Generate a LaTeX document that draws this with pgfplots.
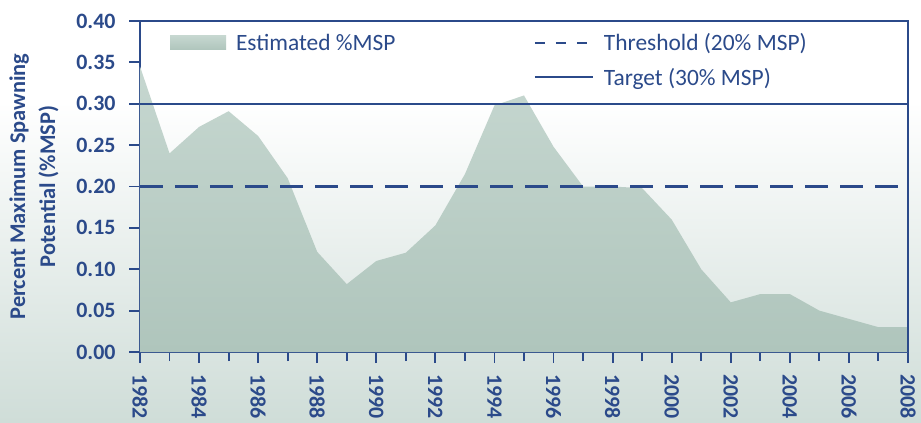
\documentclass[border=0pt]{standalone}
\usepackage{fontspec}
\setmainfont{Carlito}
\usepackage{pgfplots}
\pgfplotsset{compat=1.18}
\definecolor{navy}{HTML}{2B4A8A}
\definecolor{areatop}{HTML}{C6D7D0}
\definecolor{areabot}{HTML}{AFC5BC}
\definecolor{bgbottom}{HTML}{CFDDD8}

\begin{document}
\begin{tikzpicture}[x=1bp,y=1bp]
% page background, white at the top fading to pale green
\fill[white] (-140,250) rectangle (781,352);
\shade[top color=white, bottom color=bgbottom] (-140,-70) rectangle (781,251);
\begin{axis}[
  at={(0,0)}, anchor=south west,
  scale only axis, width=768bp, height=331bp,
  xmin=1982, xmax=2008, ymin=0, ymax=0.40,
  xtick={1982,1984,...,2008}, minor xtick={1982,...,2008},
  ytick={0,0.05,...,0.40},
  yticklabel style={xshift=-10bp, /pgf/number format/fixed, /pgf/number format/fixed zerofill, /pgf/number format/precision=2},
  xticklabel style={rotate=-90, anchor=west, xshift=8bp, /pgf/number format/1000 sep={}},
  /pgf/number format/assume math mode=true,
  tick pos=left, tick align=outside,
  major tick length=11bp, minor tick length=9bp,
  axis line style={navy, line width=2.5bp},
  every tick/.style={navy, line width=1.8bp},
  tick label style={font=\fontsize{22}{24}\selectfont\bfseries, text=navy},
  ylabel={Percent Maximum Spawning\\Potential (\%MSP)},
  ylabel style={font=\fontsize{22.5}{30}\selectfont\bfseries, text=navy, align=center, yshift=11bp},
  legend columns=2,
  legend style={draw=none, fill=none, at={(0.035,0.975)}, anchor=north west,
    font=\fontsize{23.5}{26}\selectfont, text=navy, row sep=12bp,
    nodes={inner sep=2bp}},
  legend cell align=left,
  /tikz/every odd column/.append style={column sep=8bp},
  /tikz/every even column/.append style={column sep=136bp},
  legend image code/.code={\draw[#1] (0bp,0bp) -- (58bp,0bp);},
]
\addplot[top color=areatop, bottom color=areabot, draw=none,
  legend image code/.code={\fill[areatop!85!areabot] (0bp,-7bp) rectangle (56bp,7bp);}] coordinates {
  (1982,0.345)(1983,0.24)(1984,0.272)(1985,0.291)(1986,0.261)(1987,0.21)
  (1988,0.121)(1989,0.082)(1990,0.11)(1991,0.12)(1992,0.153)(1993,0.215)
  (1994,0.298)(1995,0.31)(1996,0.248)(1997,0.20)(1998,0.20)(1999,0.198)
  (2000,0.16)(2001,0.10)(2002,0.06)(2003,0.07)(2004,0.07)(2005,0.05)
  (2006,0.04)(2007,0.03)(2008,0.03)} \closedcycle;
\addlegendentry{Estimated \%MSP}
\addplot[navy, line width=3bp, dash pattern=on 23bp off 12bp,
  legend image code/.code={\draw[navy, line width=2.4bp, dash pattern=on 10bp off 11bp] (0bp,0bp) -- (58bp,0bp);}]
  coordinates {(1982,0.20)(2008,0.20)};
\addlegendentry{Threshold (20\% MSP)}
\addlegendimage{empty legend}
\addlegendentry{}
\addplot[navy, line width=2bp] coordinates {(1982,0.30)(2008,0.30)};
\addlegendentry{Target (30\% MSP)}
\draw[navy, line width=2.5bp] (rel axis cs:0,1) -- (rel axis cs:1,1) -- (rel axis cs:1,0);
\end{axis}
\pgfresetboundingbox
\path[use as bounding box] (-140,-70) rectangle (781,352);
\end{tikzpicture}
\end{document}
